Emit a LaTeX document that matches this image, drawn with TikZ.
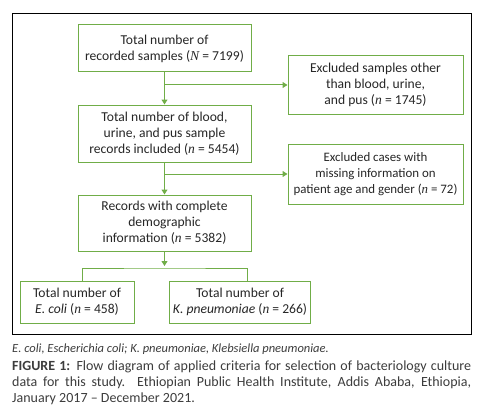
\documentclass[tikz,border=0pt]{standalone}
\usepackage{fontspec}
\setmainfont{Carlito}
\newfontfamily\varfont{Liberation Serif}
\usetikzlibrary{arrows.meta, positioning}
\definecolor{boxgreen}{RGB}{112, 173, 71}
\definecolor{captext}{RGB}{60, 60, 60}
\newcommand{\varn}{{\varfont\itshape n}}
\newcommand{\varN}{{\varfont\itshape N}}

\begin{document}
\begin{tikzpicture}[
  x=1pt, y=-1pt,
  node distance=32pt and 37pt,
  every node/.style={font=\fontsize{13.6}{16}\selectfont, text=black!85},
  box/.style={rectangle, draw=boxgreen, line width=1pt, align=center, inner xsep=1pt, inner ysep=3pt},
  mainbox/.style={box, minimum width=173pt},
  sidebox/.style={box, minimum width=175pt},
  arr/.style={-{Triangle[width=6pt, length=5pt]}, line width=1pt, color=boxgreen},
  link/.style={line width=1pt, color=boxgreen}
]
\useasboundingbox (0,0) rectangle (486,417);
\draw[line width=1pt] (12,14) rectangle (471,334);

\node[mainbox, minimum height=47pt] (total) at (164.5,48.5) {Total number of\\recorded samples (\varN{} = 7199)};
\node[mainbox, minimum height=57pt, below=of total] (included) {Total number of blood,\\urine, and pus sample\\records included (\varn{} = 5454)};
\node[mainbox, minimum height=56pt, below=of included] (complete) {Records with complete\\demographic\\information (\varn{} = 5382)};

\node[sidebox, minimum height=58pt] (otherspec) at (375.5,85) {Excluded samples other\\than blood, urine,\\and pus (\varn{} = 1745)};
\node[sidebox, minimum height=60pt, font=\fontsize{12.9}{16}\selectfont] (missing) at (375.5,174) {Excluded cases with\\missing information on\\patient age and gender (\varn{} = 72)};

\node[box, minimum width=114pt, minimum height=42pt] (ecoli) at (77,302) {Total number of\\\textit{E. coli} (\varn{} = 458)};
\node[box, minimum width=141pt, minimum height=42pt] (kpn) at (240,302) {Total number of\\\textit{K. pneumoniae} (\varn{} = 266)};

\coordinate (split) at (164.5,268);

\draw[arr] (total) -- (included);
\draw[arr] (total.south |- otherspec.west) -- (otherspec.west);
\draw[arr] (included) -- (complete);
\draw[arr] (included.south |- missing.west) -- (missing.west);
\draw[arr, shorten >=2pt] (complete) -- (split);
\draw[link] ([xshift=5pt]ecoli.north) |- (split) -| ([xshift=7pt]kpn.north);

% caption
\node[anchor=base west, inner sep=0pt, font=\fontsize{12.5}{14}\selectfont\itshape, text=captext] (abbrev) at (12,352)
  {E. coli, Escherichia coli; K. pneumoniae, Klebsiella pneumoniae.};
\node[anchor=north west, inner sep=0pt, text width=459pt, align=justify, font=\fontsize{14}{16}\selectfont, text=captext] (caption) at (12,361)
  {\textbf{FIGURE 1:} Flow diagram of applied criteria for selection of bacteriology culture data for this study. Ethiopian Public Health Institute, Addis Ababa, Ethiopia, \mbox{January} 2017 -- December 2021.};
\end{tikzpicture}
\end{document}
